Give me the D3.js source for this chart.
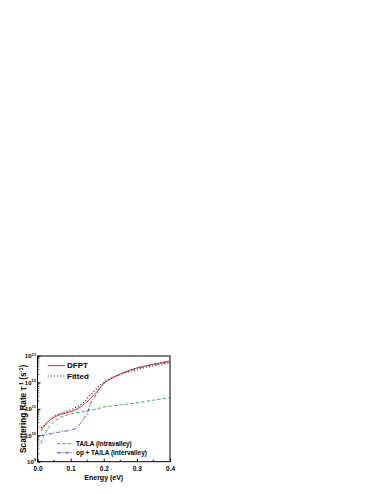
<!DOCTYPE html>
<html lang="en">
<head>
<meta charset="utf-8">
<title>Scattering Rate</title>
<script src="https://d3js.org/d3.v7.min.js"></script>
<style>
  body { margin: 0; background: #fff; }
  svg { display: block; font-family: "Liberation Sans", Arial, sans-serif; font-weight: bold; }
  .tick text { font-size: 6.5px; font-weight: bold; }
</style>
</head>
<body>
<svg width="382" height="494"></svg>
<script>
// data (energy in eV, rate as log10 of 1/s)
const energy = [0.01, 0.02, 0.04, 0.07, 0.1, 0.115, 0.13, 0.14, 0.15, 0.16, 0.175, 0.185, 0.2, 0.22, 0.25, 0.3, 0.35, 0.4];
const dfpt   = [10.16, 10.35, 10.6, 10.79, 10.89, 10.97, 11.08, 11.17, 11.27, 11.4, 11.59, 11.74, 11.95, 12.13, 12.32, 12.55, 12.69, 12.81];
const fitted = [10.28, 10.36, 10.62, 10.83, 10.96, 11.05, 11.15, 11.26, 11.4, 11.52, 11.72, 11.85, 12.0, 12.14, 12.3, 12.49, 12.63, 12.75];
const intra  = [9.7, 10.0, 10.4, 10.68, 10.8, 10.85, 10.88, 10.9, 10.93, 10.96, 10.99, 11.02, 11.07, 11.1, 11.15, 11.23, 11.33, 11.42];
const inter  = [9.98, 10.01, 10.06, 10.13, 10.2, 10.26, 10.45, 10.65, 10.83, 11.2, 11.5, 11.71, 11.97, 12.14, 12.31, 12.53, 12.67, 12.79];
const xTicks = [0.0, 0.1, 0.2, 0.3, 0.4];
const yTicks = [9, 10, 11, 12, 13];

const svg = d3.select("svg");
const mLeft = 37.5, mRight = 170, mTop = 356, mBottom = 461.7;

const x = d3.scaleLinear().domain([0, 0.4]).range([mLeft, mRight]);
const y = d3.scaleLinear().domain([9, 13]).range([mBottom, mTop]);

// frame
svg.append("rect")
  .attr("x", mLeft).attr("y", mTop)
  .attr("width", mRight - mLeft).attr("height", mBottom - mTop)
  .attr("fill", "none").attr("stroke", "#000").attr("stroke-width", 1);

// x axis
const xAxis = svg.append("g").attr("transform", "translate(0," + mBottom + ")")
  .call(d3.axisBottom(x).tickValues(xTicks).tickFormat(d3.format(".1f")).tickSizeInner(-3).tickSizeOuter(0).tickPadding(4.5));
xAxis.select(".domain").remove();
// minor x ticks
svg.selectAll("line.xminor").data([0.05, 0.15, 0.25, 0.35]).enter().append("line")
  .attr("x1", d => x(d)).attr("x2", d => x(d))
  .attr("y1", mBottom).attr("y2", mBottom - 1.8).attr("stroke", "#000");

// y axis
const yAxis = svg.append("g").attr("transform", "translate(" + mLeft + ",0)")
  .call(d3.axisLeft(y).tickValues(yTicks).tickFormat("").tickSizeInner(-3).tickSizeOuter(0));
yAxis.select(".domain").remove();
// y tick labels as 10^n
yTicks.forEach(function(p) {
  const t = svg.append("text")
    .attr("x", mLeft - 1.5).attr("y", y(p) + 2.3)
    .attr("text-anchor", "end").attr("font-size", 6);
  t.append("tspan").text("10");
  t.append("tspan").attr("font-size", 4).attr("dy", -2.8).text(p);
});
// log minor ticks
const minor = [];
for (let p = 9; p < 13; p++) for (let m = 2; m < 10; m++) minor.push(p + Math.log10(m));
svg.selectAll("line.yminor").data(minor).enter().append("line")
  .attr("x1", mLeft).attr("x2", mLeft + 1.8)
  .attr("y1", d => y(d)).attr("y2", d => y(d)).attr("stroke", "#000").attr("stroke-width", 0.7);

// axis titles
svg.append("text").attr("x", (mLeft + mRight) / 2).attr("y", 480)
  .attr("text-anchor", "middle").attr("font-size", 7).text("Energy (eV)");
const yl = svg.append("text")
  .attr("transform", "translate(26," + ((mTop + mBottom) / 2) + ") rotate(-90)")
  .attr("text-anchor", "middle").attr("font-size", 8.2);
yl.append("tspan").text("Scattering Rate \u03C4");
yl.append("tspan").attr("font-size", 5.5).attr("dy", -3.2).text("-1");
yl.append("tspan").attr("dy", 3.2).text(" (s");
yl.append("tspan").attr("font-size", 5.5).attr("dy", -3.2).text("-1");
yl.append("tspan").attr("dy", 3.2).text(")");

// curves
const line = d3.line().x((d, i) => x(energy[i])).y(d => y(d)).curve(d3.curveMonotoneX);
const series = [
  { values: intra, color: "#2eb84e", dash: "3.5,2", width: 1 },
  { values: inter, color: "#3f3fb0", dash: "4,1.5,1,1.5", width: 0.9 },
  { values: fitted, color: "#222", dash: "1.1,2", width: 1.1 },
  { values: dfpt, color: "#e8242b", dash: null, width: 1 }
];
series.forEach(function(s) {
  svg.append("path").datum(s.values)
    .attr("d", line).attr("fill", "none")
    .attr("stroke", s.color).attr("stroke-width", s.width)
    .attr("stroke-dasharray", s.dash);
});

// legends
const legend = [
  { label: "DFPT", color: "#e8242b", dash: null, x1: 47.7, x2: 65, y: 365.7, size: 8 },
  { label: "Fitted", color: "#222", dash: "1.1,2", x1: 47.7, x2: 65, y: 376, size: 8 },
  { label: "TA/LA (intravalley)", color: "#2eb84e", dash: "3.5,2", x1: 57, x2: 74, y: 443.7, size: 6.4 },
  { label: "op + TA/LA (intervalley)", color: "#3f3fb0", dash: "4,1.5,1,1.5", x1: 57, x2: 74, y: 452.7, size: 6.4 }
];
legend.forEach(function(l) {
  svg.append("line").attr("x1", l.x1).attr("x2", l.x2).attr("y1", l.y).attr("y2", l.y)
    .attr("stroke", l.color).attr("stroke-width", 1).attr("stroke-dasharray", l.dash);
  svg.append("text").attr("x", l.x2 + 2).attr("y", l.y + 2.6)
    .attr("font-size", l.size).text(l.label);
});
</script>
</body>
</html>
